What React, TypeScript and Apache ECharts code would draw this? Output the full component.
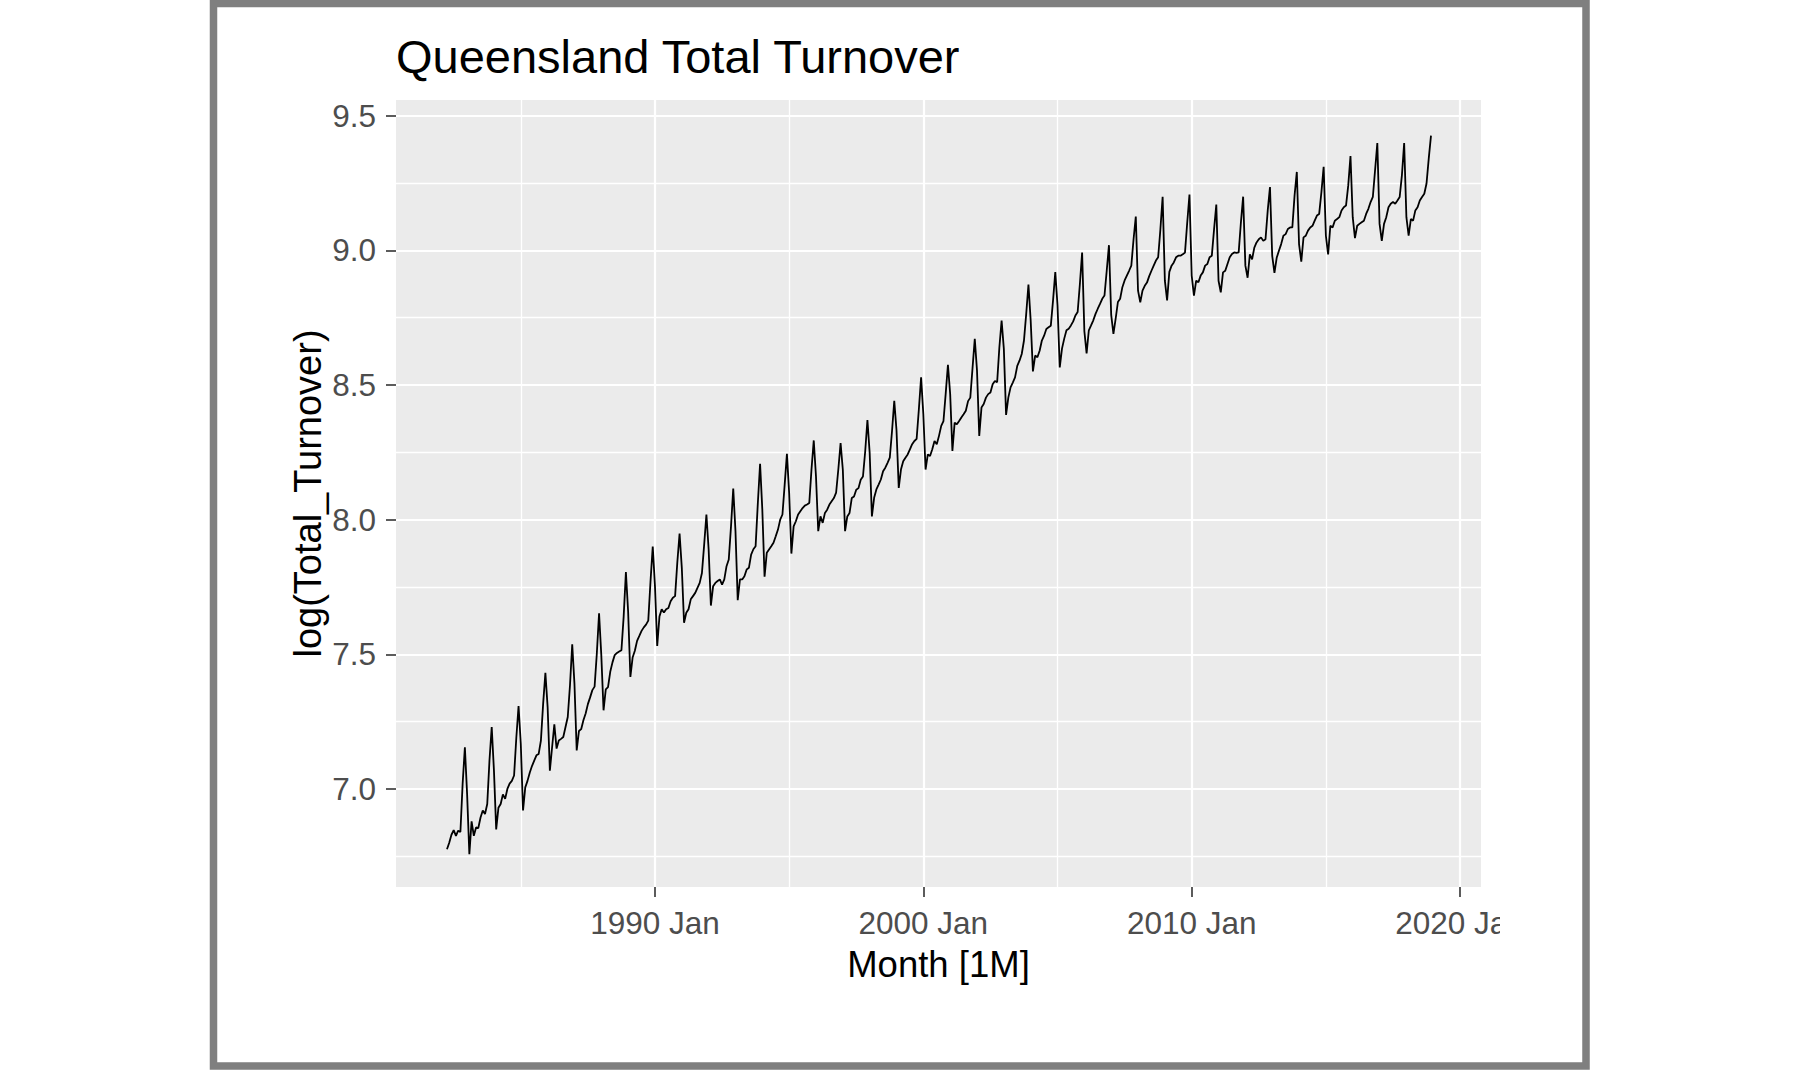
import React, { useEffect, useRef } from "react";
import * as echarts from "echarts";

// Monthly log(Total_Turnover), Queensland
const y1982 = [6.776, 6.800, 6.830, 6.847, 6.826, 6.845, 6.840, 7.020, 7.155]; // Apr–Dec
const y1983 = [6.980, 6.758, 6.880, 6.826, 6.857, 6.855, 6.894, 6.920, 6.907, 6.944, 7.106, 7.230];
const y1984 = [7.068, 6.850, 6.930, 6.944, 6.980, 6.963, 7.000, 7.020, 7.030, 7.050, 7.190, 7.308];
const y1985 = [7.168, 6.920, 7.006, 7.030, 7.060, 7.085, 7.105, 7.125, 7.130, 7.180, 7.317, 7.431];
const y1986 = [7.304, 7.068, 7.155, 7.240, 7.150, 7.180, 7.186, 7.193, 7.230, 7.267, 7.385, 7.537];
const y1987 = [7.390, 7.143, 7.215, 7.222, 7.255, 7.280, 7.315, 7.340, 7.367, 7.380, 7.503, 7.652];
const y1988 = [7.497, 7.292, 7.370, 7.378, 7.435, 7.470, 7.497, 7.505, 7.510, 7.515, 7.640, 7.805];
const y1989 = [7.658, 7.416, 7.488, 7.513, 7.550, 7.568, 7.587, 7.600, 7.610, 7.625, 7.770, 7.900];
const y1990 = [7.753, 7.531, 7.640, 7.667, 7.655, 7.667, 7.672, 7.697, 7.710, 7.716, 7.842, 7.948];
const y1991 = [7.821, 7.617, 7.654, 7.667, 7.704, 7.716, 7.728, 7.747, 7.765, 7.802, 7.907, 8.019];
const y1992 = [7.889, 7.681, 7.753, 7.765, 7.772, 7.778, 7.759, 7.778, 7.827, 7.852, 7.975, 8.115];
const y1993 = [7.957, 7.701, 7.778, 7.778, 7.790, 7.815, 7.821, 7.870, 7.890, 7.901, 8.062, 8.207];
const y1994 = [8.037, 7.788, 7.877, 7.889, 7.901, 7.914, 7.938, 7.963, 8.000, 8.019, 8.130, 8.244];
const y1995 = [8.099, 7.874, 7.975, 7.994, 8.019, 8.031, 8.043, 8.052, 8.056, 8.062, 8.188, 8.294];
const y1996 = [8.160, 7.957, 8.012, 7.988, 8.025, 8.037, 8.056, 8.068, 8.080, 8.100, 8.188, 8.284];
const y1997 = [8.185, 7.957, 8.012, 8.025, 8.080, 8.086, 8.111, 8.117, 8.148, 8.160, 8.253, 8.370];
const y1998 = [8.248, 8.012, 8.081, 8.112, 8.130, 8.149, 8.180, 8.193, 8.211, 8.230, 8.329, 8.441];
const y1999 = [8.332, 8.118, 8.186, 8.217, 8.230, 8.242, 8.261, 8.280, 8.292, 8.300, 8.410, 8.528];
const y2000 = [8.391, 8.186, 8.242, 8.236, 8.261, 8.292, 8.280, 8.311, 8.348, 8.366, 8.468, 8.575];
const y2001 = [8.466, 8.255, 8.360, 8.354, 8.366, 8.379, 8.391, 8.404, 8.440, 8.453, 8.563, 8.671];
const y2002 = [8.553, 8.311, 8.416, 8.429, 8.453, 8.466, 8.472, 8.503, 8.515, 8.510, 8.640, 8.739];
const y2003 = [8.634, 8.389, 8.453, 8.491, 8.509, 8.528, 8.571, 8.590, 8.615, 8.665, 8.764, 8.873];
const y2004 = [8.739, 8.550, 8.609, 8.603, 8.627, 8.665, 8.683, 8.708, 8.714, 8.720, 8.814, 8.919];
const y2005 = [8.795, 8.565, 8.635, 8.672, 8.703, 8.709, 8.721, 8.736, 8.758, 8.771, 8.875, 8.992];
const y2006 = [8.700, 8.617, 8.703, 8.721, 8.740, 8.764, 8.783, 8.801, 8.820, 8.832, 8.924, 9.019];
const y2007 = [8.760, 8.690, 8.746, 8.808, 8.820, 8.863, 8.888, 8.906, 8.924, 8.943, 9.041, 9.125];
const y2008 = [8.850, 8.807, 8.850, 8.868, 8.880, 8.904, 8.924, 8.943, 8.962, 8.974, 9.078, 9.199];
const y2009 = [8.887, 8.814, 8.920, 8.943, 8.955, 8.974, 8.980, 8.980, 8.985, 8.992, 9.103, 9.207];
const y2010 = [8.906, 8.832, 8.887, 8.881, 8.906, 8.918, 8.943, 8.949, 8.974, 8.980, 9.078, 9.170];
const y2011 = [8.887, 8.844, 8.918, 8.924, 8.949, 8.974, 8.986, 8.992, 8.990, 8.992, 9.103, 9.199];
const y2012 = [8.943, 8.898, 8.985, 8.966, 9.010, 9.029, 9.041, 9.048, 9.035, 9.041, 9.148, 9.235];
const y2013 = [8.979, 8.916, 8.972, 8.998, 9.023, 9.054, 9.060, 9.079, 9.085, 9.085, 9.204, 9.291];
const y2014 = [9.023, 8.958, 9.048, 9.054, 9.073, 9.085, 9.091, 9.110, 9.129, 9.135, 9.216, 9.310];
const y2015 = [9.054, 8.985, 9.091, 9.085, 9.110, 9.116, 9.123, 9.148, 9.160, 9.166, 9.241, 9.350];
const y2016 = [9.123, 9.045, 9.091, 9.098, 9.104, 9.110, 9.135, 9.154, 9.179, 9.198, 9.298, 9.398];
const y2017 = [9.098, 9.035, 9.098, 9.123, 9.160, 9.173, 9.179, 9.173, 9.185, 9.198, 9.279, 9.398];
const y2018 = [9.123, 9.054, 9.116, 9.110, 9.148, 9.160, 9.185, 9.198, 9.210, 9.248, 9.341, 9.426];

// [year, first month of the block, values]
const yearBlocks: [number, number, number[]][] = [
  [1982, 4, y1982], [1983, 1, y1983], [1984, 1, y1984], [1985, 1, y1985], [1986, 1, y1986],
  [1987, 1, y1987], [1988, 1, y1988], [1989, 1, y1989], [1990, 1, y1990], [1991, 1, y1991],
  [1992, 1, y1992], [1993, 1, y1993], [1994, 1, y1994], [1995, 1, y1995], [1996, 1, y1996],
  [1997, 1, y1997], [1998, 1, y1998], [1999, 1, y1999], [2000, 1, y2000], [2001, 1, y2001],
  [2002, 1, y2002], [2003, 1, y2003], [2004, 1, y2004], [2005, 1, y2005], [2006, 1, y2006],
  [2007, 1, y2007], [2008, 1, y2008], [2009, 1, y2009], [2010, 1, y2010], [2011, 1, y2011],
  [2012, 1, y2012], [2013, 1, y2013], [2014, 1, y2014], [2015, 1, y2015], [2016, 1, y2016],
  [2017, 1, y2017], [2018, 1, y2018],
];

const xTickValues = [1990, 2000, 2010, 2020];
const xMinorGrid = [1985, 1995, 2005, 2015];
const yTickValues = [7.0, 7.5, 8.0, 8.5, 9.0, 9.5];
const yMinorGrid = [6.75, 7.25, 7.75, 8.25, 8.75, 9.25];

const titleText = "Queensland Total Turnover";
const xTitle = "Month [1M]";
const yTitle = "log(Total_Turnover)";

const FONT = "'Liberation Sans', Arial, sans-serif";

export default function App() {
  const ref = useRef<HTMLDivElement>(null);

  useEffect(() => {
    if (!ref.current) return;
    const chart = echarts.init(ref.current, undefined, { renderer: "svg" });

    const seriesData: [number, number][] = [];
    yearBlocks.forEach(([year, firstMonth, vals]) => {
      vals.forEach((v, i) => {
        const m = firstMonth + i;
        seriesData.push([year + (m - 1) / 12, v]);
      });
    });

    const majorW = 2.2;
    const minorW = 1.3;
    const gridLines: any[] = [
      ...xTickValues.map((v) => ({ xAxis: v, lineStyle: { width: majorW } })),
      ...xMinorGrid.map((v) => ({ xAxis: v, lineStyle: { width: minorW } })),
      ...yTickValues.map((v) => ({ yAxis: v, lineStyle: { width: majorW } })),
      ...yMinorGrid.map((v) => ({ yAxis: v, lineStyle: { width: minorW } })),
    ];

    const gLeft = 396, gTop = 100, gRight = 1481, gBottom = 887;

    chart.setOption({
      animation: false,
      backgroundColor: "#ffffff",
      textStyle: { fontFamily: FONT },
      title: {
        text: titleText,
        left: gLeft,
        top: 33,
        padding: 0,
        textStyle: { fontSize: 47, lineHeight: 47, fontWeight: "normal", color: "#000000", fontFamily: FONT },
      },
      grid: {
        left: gLeft,
        top: gTop,
        width: gRight - gLeft,
        height: gBottom - gTop,
        show: true,
        backgroundColor: "#EBEBEB",
        borderWidth: 0,
        containLabel: false,
      },
      xAxis: {
        type: "value",
        min: 1980.35,
        max: 2020.78,
        axisLine: { show: false },
        splitLine: { show: false },
        axisTick: {
          show: true,
          customValues: xTickValues,
          length: 10,
          lineStyle: { color: "#333333", width: 1.6 },
        },
        axisLabel: {
          customValues: xTickValues,
          formatter: (v: number) => `${v} Jan`,
          margin: 20,
          fontSize: 31.5,
          lineHeight: 32,
          color: "#4D4D4D",
          fontFamily: FONT,
        },
      },
      yAxis: {
        type: "value",
        min: 6.636,
        max: 9.558,
        axisLine: { show: false },
        splitLine: { show: false },
        axisTick: {
          show: true,
          customValues: yTickValues,
          length: 10,
          lineStyle: { color: "#333333", width: 1.6 },
        },
        axisLabel: {
          customValues: yTickValues,
          formatter: (v: number) => v.toFixed(1),
          margin: 20,
          fontSize: 31.5,
          lineHeight: 32,
          color: "#4D4D4D",
          fontFamily: FONT,
        },
      },
      series: [
        {
          type: "line",
          data: seriesData,
          showSymbol: false,
          symbol: "none",
          z: 3,
          lineStyle: { color: "#000000", width: 1.8 },
          silent: true,
          markLine: {
            z: 1,
            silent: true,
            symbol: "none",
            label: { show: false },
            emphasis: { disabled: true },
            lineStyle: { color: "#FFFFFF", type: "solid", width: majorW },
            data: gridLines,
          },
        },
      ],
      graphic: [
        {
          type: "text",
          x: 938.5,
          y: 964.5,
          style: {
            text: xTitle,
            fontSize: 36.5,
            fontFamily: FONT,
            fill: "#000000",
            align: "center",
            verticalAlign: "middle",
          },
        },
        {
          type: "text",
          x: 308,
          y: 493.5,
          rotation: Math.PI / 2,
          style: {
            text: yTitle,
            fontSize: 38,
            fontFamily: FONT,
            fill: "#000000",
            align: "center",
            verticalAlign: "middle",
          },
        },
        {
          type: "rect",
          z: 100,
          shape: { x: 1500, y: 895, width: 80, height: 60 },
          style: { fill: "#FFFFFF" },
        },
        {
          type: "rect",
          z: 101,
          shape: { x: 213.5, y: 3.5, width: 1372.5, height: 1062.5 },
          style: { fill: "none", stroke: "#7F7F7F", lineWidth: 7.5 },
        },
      ],
    });

    return () => chart.dispose();
  }, []);

  return (
    <div
      ref={ref}
      style={{ position: "absolute", left: 0, top: 0, width: 1800, height: 1070, background: "#ffffff" }}
    />
  );
}
